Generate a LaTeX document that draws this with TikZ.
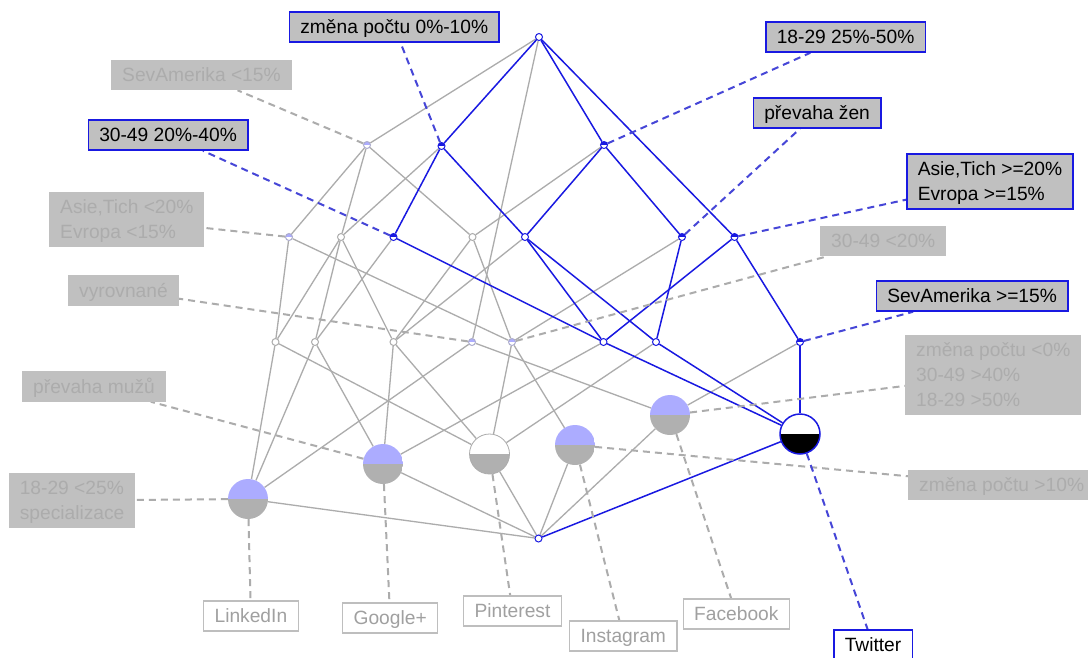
\documentclass[tikz,border=0pt]{standalone}
\usepackage{fontspec}
\setmainfont{Liberation Sans}
\usetikzlibrary{backgrounds}
\definecolor{lblue}{RGB}{25,25,225}
\definecolor{dblue}{RGB}{70,70,215}
\definecolor{lgray}{RGB}{172,172,172}
\definecolor{boxgray}{RGB}{192,192,192}
\definecolor{txtgray}{RGB}{172,172,172}
\definecolor{lav}{RGB}{172,172,255}
\definecolor{objgray}{RGB}{176,176,176}
\definecolor{olgray}{RGB}{190,190,190}
\definecolor{oltxt}{RGB}{160,160,160}
\newcommand\lstr{\rule[-4.1pt]{0pt}{21.5pt}}
\begin{document}
\begin{tikzpicture}[x=1pt,y=-1pt,
  sn/.style={circle,inner sep=0pt,minimum size=7pt,line width=1pt,fill=white},
  bn/.style={sn,draw=lblue},
  gn/.style={sn,draw=lgray},
  topfill/.style={path picture={\fill[#1] (path picture bounding box.west) rectangle (path picture bounding box.north east);}},
  battr/.style={bn,topfill=lblue},
  gattr/.style={sn,draw=lgray!60!lav,topfill=lav},
  obj/.style 2 args={circle,inner sep=0pt,minimum size=40pt,path picture={\fill[#1] (path picture bounding box.west) rectangle (path picture bounding box.north east);\fill[#2] (path picture bounding box.west) rectangle (path picture bounding box.south east);}},
  lab/.style={anchor=west,inner xsep=11pt,inner ysep=4.3pt,align=left,font=\fontsize{19.2}{25}\selectfont},
  blab/.style={lab,fill=boxgray,draw=lblue,line width=1.5pt,text=black},
  glab/.style={lab,fill=boxgray,text=txtgray},
  olab/.style={lab,fill=white,draw=olgray,line width=1.2pt,text=oltxt},
  tlab/.style={lab,fill=white,draw=lblue,line width=1.5pt,text=black},
  be/.style={draw=lblue,line width=1.5pt},
  ge/.style={draw=lgray,line width=1.3pt},
  bd/.style={draw=dblue,line width=2pt,dash pattern=on 7pt off 5pt},
  gd/.style={draw=lgray,line width=2pt,dash pattern=on 7pt off 5pt}
]
\useasboundingbox (0,0) rectangle (1088,657);
% lattice nodes
\node[bn] (T) at (539,37) {};
\node[gattr] (a1) at (367,145) {};
\node[battr] (a2) at (441.5,146) {};
\node[battr] (a3) at (604,145) {};
\node[gattr] (b1) at (289,237) {};
\node[gn] (b2) at (341,237) {};
\node[battr] (b3) at (393.5,237) {};
\node[gn] (b4) at (472.5,237) {};
\node[bn] (b5) at (525,237) {};
\node[battr] (b6) at (682,237) {};
\node[battr] (b7) at (734.5,237) {};
\node[gn] (c1) at (275.5,342) {};
\node[gn] (c2) at (315,342) {};
\node[gn] (c3) at (393.5,342) {};
\node[gattr] (c4) at (472,342) {};
\node[gattr] (c5) at (512,342) {};
\node[bn] (c6) at (603.5,342) {};
\node[bn] (c7) at (656,342) {};
\node[battr] (c8) at (800,342) {};
\node[obj={lav}{objgray}] (L) at (248,499) {};
\node[obj={lav}{objgray}] (G) at (383,464) {};
\node[obj={white}{objgray},draw=lgray,line width=0.8pt] (P) at (489.5,454) {};
\node[obj={lav}{objgray}] (I) at (575,445) {};
\node[obj={lav}{objgray}] (F) at (670,415) {};
\node[obj={white}{black},draw=lblue,line width=1.5pt] (W) at (800,434) {};
\node[bn] (B) at (538.5,538.5) {};
% labels
\node[blab] (lz010) at (288.6,27) {\lstr změna počtu 0\%-10\%};
\node[glab] (ls15) at (111,75) {\lstr SevAmerika <15\%};
\node[blab] (lm2040) at (87.5,135) {\lstr 30-49 20\%-40\%};
\node[glab] (las) at (49,219.5) {\lstr Asie,Tich <20\%\\\lstr Evropa <15\%};
\node[glab] (lvyr) at (68,290.5) {\lstr vyrovnané};
\node[blab] (ly2550) at (765,37) {\lstr 18-29 25\%-50\%};
\node[blab] (lzen) at (752.5,113) {\lstr převaha žen};
\node[blab] (lasp) at (906,181.5) {\lstr Asie,Tich >=20\%\\\lstr Evropa >=15\%};
\node[glab] (lm20) at (820,241) {\lstr 30-49 <20\%};
\node[blab] (lsevp) at (875.5,296) {\lstr SevAmerika >=15\%};
\node[glab] (lmuz) at (22,386.5) {\lstr převaha mužů};
\node[glab] (ly25) at (8.6,500.5) {\lstr 18-29 <25\%\\\lstr specializace};
\node[glab] (lzm0) at (905,375) {\lstr změna počtu <0\%\\\lstr 30-49 >40\%\\\lstr 18-29 >50\%};
\node[glab] (lzm10) at (908,485) {\lstr změna počtu >10\%};
\node[olab] (lL) at (203,616) {\lstr LinkedIn};
\node[olab] (lG) at (342,618) {\lstr Google+};
\node[olab] (lP) at (463,611) {\lstr Pinterest};
\node[olab] (lI) at (569,636) {\lstr Instagram};
\node[olab] (lF) at (682.6,614) {\lstr Facebook};
\node[tlab] (lW) at (833,645) {\lstr Twitter};
\begin{pgfonlayer}{background}
\fill[white] (0,0) rectangle (1088,657);
% gray edges
\foreach \u/\v in {T/a1,T/c4,a1/b1,a1/b2,a1/b4,a2/b2,a3/b4,b1/c1,b1/c5,b2/c1,b2/c2,b2/c3,b3/c2,b4/c3,b4/c5,b5/c3,b6/c5,c4/L,c4/F,c1/L,c1/P,c2/L,c2/G,c3/G,c3/P,c5/P,c5/I,c6/G,c7/P,c8/F,L/B,G/B,P/B,I/B,F/B}
  \draw[ge] (\u) -- (\v);
% blue edges
\foreach \u/\v in {T/a2,T/a3,T/b7,a2/b3,a2/b5,a3/b5,a3/b6,b7/c6,b7/c8,b3/c6,b5/c6,b5/c7,b6/c7,c6/W,c7/W,c8/W,W/B}
  \draw[be] (\u) -- (\v);
% label connectors
\foreach \u/\v in {a1/ls15,b1/las,c4/lvyr,c5/lm20,G/lmuz,L/ly25,F/lzm0,I/lzm10,L/lL,G/lG,P/lP,I/lI,F/lF}
  \draw[gd] (\u) -- (\v);
\foreach \u/\v in {a2/lz010,b3/lm2040,a3/ly2550,b6/lzen,b7/lasp,c8/lsevp,W/lW}
  \draw[bd] (\u) -- (\v);
\end{pgfonlayer}
\end{tikzpicture}
\end{document}
